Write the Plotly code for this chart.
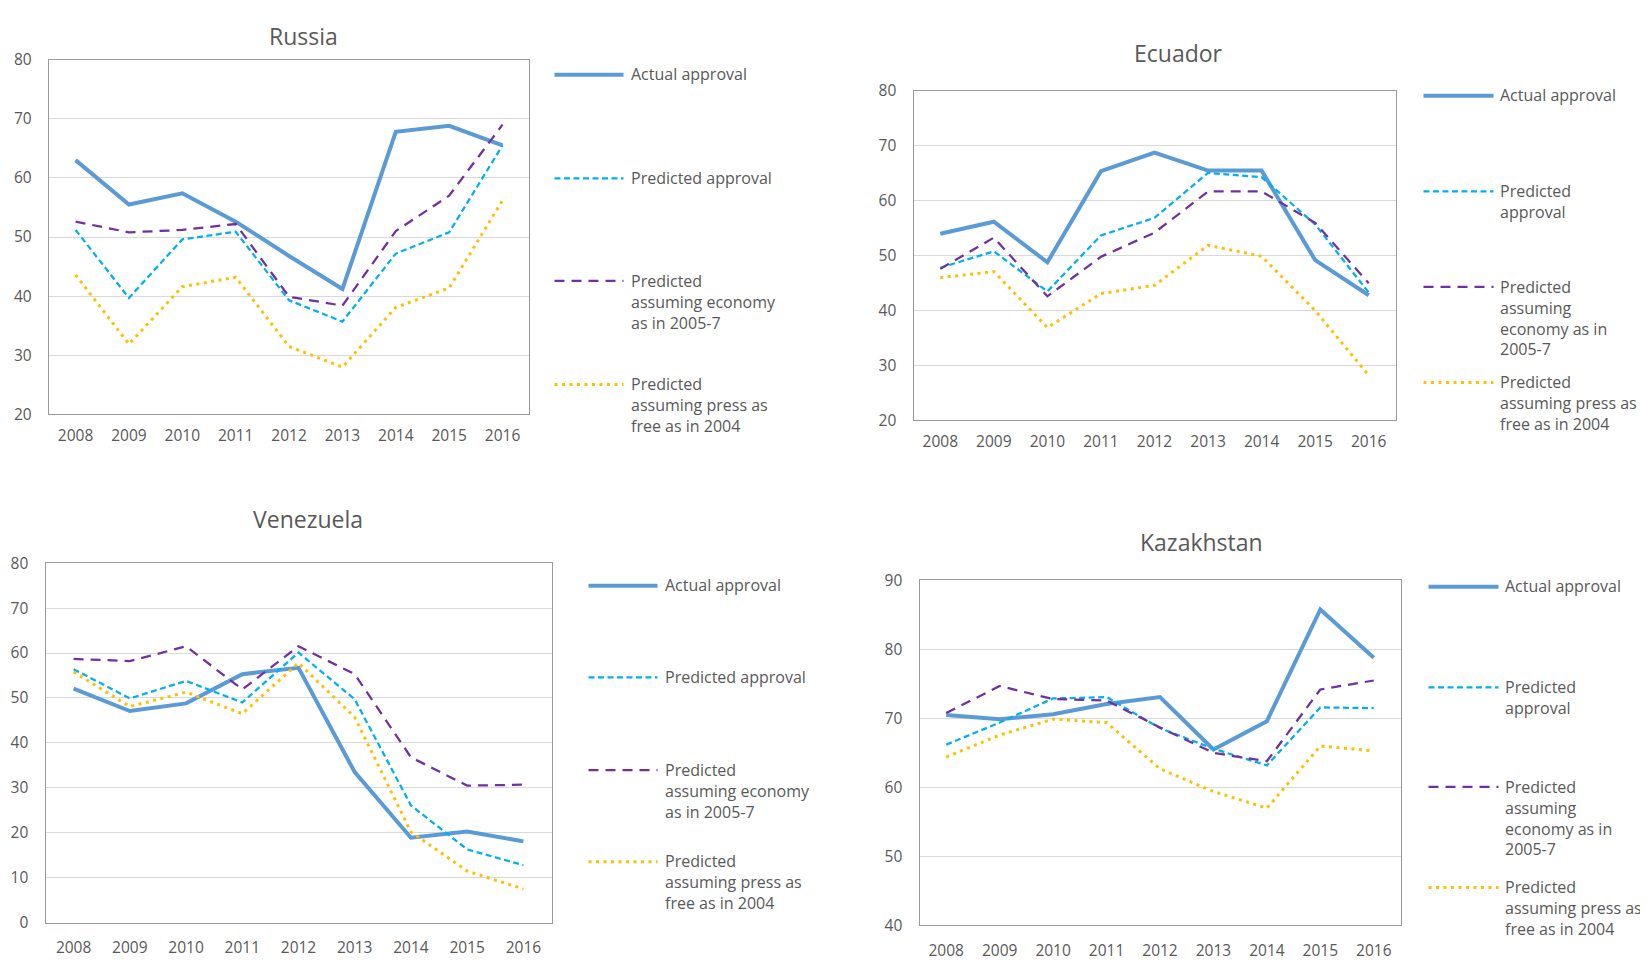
import plotly.graph_objects as go

# ---------------- data ----------------
years = ["2008", "2009", "2010", "2011", "2012", "2013", "2014", "2015", "2016"]

series_names = [
    "Actual approval",
    "Predicted approval",
    "Predicted assuming economy as in 2005-7",
    "Predicted assuming press as free as in 2004",
]

russia_actual = [63.0, 55.5, 57.4, 52.6, 46.8, 41.2, 67.8, 68.8, 65.5]
russia_pred = [51.2, 39.7, 49.6, 50.9, 39.3, 35.7, 47.2, 50.8, 65.5]
russia_econ = [52.6, 50.8, 51.2, 52.2, 39.9, 38.4, 51.0, 57.0, 69.0]
russia_press = [43.6, 31.9, 41.6, 43.2, 31.5, 28.0, 38.1, 41.4, 56.2]

ecuador_actual = [54.0, 56.2, 48.8, 65.4, 68.8, 65.5, 65.5, 49.2, 42.8]
ecuador_pred = [47.8, 50.8, 43.5, 53.7, 56.9, 65.1, 64.3, 55.7, 43.3]
ecuador_econ = [47.6, 53.3, 42.6, 49.8, 54.2, 61.7, 61.7, 56.0, 45.0]
ecuador_press = [46.0, 47.1, 36.9, 43.1, 44.6, 51.9, 49.9, 40.0, 28.2]

venezuela_actual = [52.1, 47.1, 48.8, 55.3, 56.7, 33.5, 18.9, 20.3, 18.1]
venezuela_pred = [56.4, 49.9, 53.8, 49.0, 60.1, 49.7, 26.1, 16.3, 12.8]
venezuela_econ = [58.7, 58.2, 61.5, 51.9, 61.5, 55.3, 36.8, 30.5, 30.7]
venezuela_press = [55.8, 48.1, 51.3, 46.5, 57.8, 45.7, 20.2, 11.5, 7.5]

kazakhstan_actual = [70.5, 69.9, 70.6, 72.1, 73.1, 65.5, 69.6, 85.8, 78.8]
kazakhstan_pred = [66.2, 69.4, 72.9, 73.1, 68.6, 65.6, 63.2, 71.6, 71.5]
kazakhstan_econ = [70.8, 74.7, 72.8, 72.6, 68.7, 65.0, 63.8, 74.2, 75.5]
kazakhstan_press = [64.4, 67.6, 69.9, 69.4, 62.7, 59.4, 57.0, 66.0, 65.3]

# legend labels as wrapped in each panel
legend_text_wide = [
    "Actual approval",
    "Predicted approval",
    "Predicted<br>assuming economy<br>as in 2005-7",
    "Predicted<br>assuming press as<br>free as in 2004",
]
legend_text_narrow = [
    "Actual approval",
    "Predicted<br>approval",
    "Predicted<br>assuming<br>economy as in<br>2005-7",
    "Predicted<br>assuming press as<br>free as in 2004",
]

# ---------------- styling ----------------
W, H = 1648, 961
TXT = "#595959"
FONT = "Open Sans"
GRID = "#d9d9d9"
BORDER = "#9a9a9a"
TICK_FS = 15.5
TITLE_FS = 23
LEG_FS = 16

styles = [
    dict(color="#5B9BD5", width=4, dash="solid"),
    dict(color="#00B0F0", width=2.25, dash="6px,3.5px"),
    dict(color="#7030A0", width=2.25, dash="10px,7px"),
    dict(color="#FFC000", width=3, dash="3px,4.5px"),
]

panels = [
    dict(name="Russia", data=[russia_actual, russia_pred, russia_econ, russia_press],
         box=(48.4, 528.7, 57.8, 414.0), yr=(20, 80), dtick=10, xstand=7,
         title=(303, 18), leg_line=(554, 623), leg_text=628,
         leg_y=[73, 177, 280, 384], labels=legend_text_wide),
    dict(name="Ecuador", data=[ecuador_actual, ecuador_pred, ecuador_econ, ecuador_press],
         box=(913, 1395, 89.3, 420.0), yr=(20, 80), dtick=10, xstand=7,
         title=(1178, 51), leg_line=(1423, 1493), leg_text=1497,
         leg_y=[94, 190, 286, 382], labels=legend_text_narrow),
    dict(name="Venezuela", data=[venezuela_actual, venezuela_pred, venezuela_econ, venezuela_press],
         box=(45, 551, 563.3, 924.3), yr=(0, 80), dtick=10, xstand=11,
         title=(307, 519), leg_line=(588, 657), leg_text=662,
         leg_y=[586, 678, 771, 863], labels=legend_text_wide),
    dict(name="Kazakhstan", data=[kazakhstan_actual, kazakhstan_pred, kazakhstan_econ, kazakhstan_press],
         box=(919, 1400, 580.7, 927.0), yr=(40, 90), dtick=10, xstand=11,
         title=(1201, 542), leg_line=(1428, 1498), leg_text=1502,
         leg_y=[587, 688, 788, 889], labels=legend_text_narrow),
]


def px(x):
    return (x - 7.5) / W


def py(y):
    return 1 - ((y - 18.0) / 0.981) / H


fig = go.Figure()
annotations = []
shapes = []

for i, p in enumerate(panels):
    k = "" if i == 0 else str(i + 1)
    xa, ya = "x" + k, "y" + k
    for s, vals in enumerate(p["data"]):
        fig.add_trace(go.Scatter(
            x=years, y=vals, mode="lines", name=series_names[s],
            line=dict(color=styles[s]["color"], width=styles[s]["width"], dash=styles[s]["dash"]),
            xaxis=xa, yaxis=ya, showlegend=False,
        ))
    x0, x1, y0, y1 = p["box"]
    fig.layout["xaxis" + k] = dict(
        domain=[px(x0), px(x1)], anchor=ya, type="category",
        range=[-0.5, 8.5], showgrid=False, showline=True, linecolor=BORDER,
        linewidth=1.3, mirror=True, ticks="", ticklabelstandoff=p["xstand"],
        tickfont=dict(family=FONT, size=TICK_FS, color=TXT), zeroline=False, fixedrange=True,
    )
    fig.layout["yaxis" + k] = dict(
        domain=[py(y1), py(y0)], anchor=xa, range=list(p["yr"]), dtick=p["dtick"],
        tick0=0, showgrid=True, gridcolor=GRID, gridwidth=1.3, showline=True,
        linecolor=BORDER, linewidth=1.3, mirror=True, ticks="", ticklabelstandoff=13,
        tickfont=dict(family=FONT, size=TICK_FS, color=TXT), zeroline=False, fixedrange=True,
    )
    tx, ty = p["title"]
    # keep the title box fully inside the figure
    ty_paper = min(py(ty), 1 - (0.65 * TITLE_FS + 1) / H)
    annotations.append(dict(
        x=px(tx), y=ty_paper, xref="paper", yref="paper", text=p["name"],
        showarrow=False, xanchor="center", yanchor="middle", borderpad=0,
        font=dict(family=FONT, size=TITLE_FS, color=TXT),
    ))
    # legend
    lx0, lx1 = p["leg_line"]
    for s, yy in enumerate(p["leg_y"]):
        shapes.append(dict(
            type="line", xref="paper", yref="paper",
            x0=px(lx0), x1=px(lx1), y0=py(yy), y1=py(yy),
            line=dict(color=styles[s]["color"], width=styles[s]["width"], dash=styles[s]["dash"]),
        ))
        annotations.append(dict(
            x=px(p["leg_text"]), y=py(yy - 0.65 * LEG_FS - 3), xref="paper", yref="paper",
            text=p["labels"][s], showarrow=False, xanchor="left", yanchor="top", align="left",
            font=dict(family=FONT, size=LEG_FS, color=TXT),
        ))

fig.update_layout(
    width=W, height=H, margin=dict(l=0, r=0, t=0, b=0),
    paper_bgcolor="white", plot_bgcolor="white",
    annotations=annotations, shapes=shapes, showlegend=False,
)

fig.write_html("out.html")
